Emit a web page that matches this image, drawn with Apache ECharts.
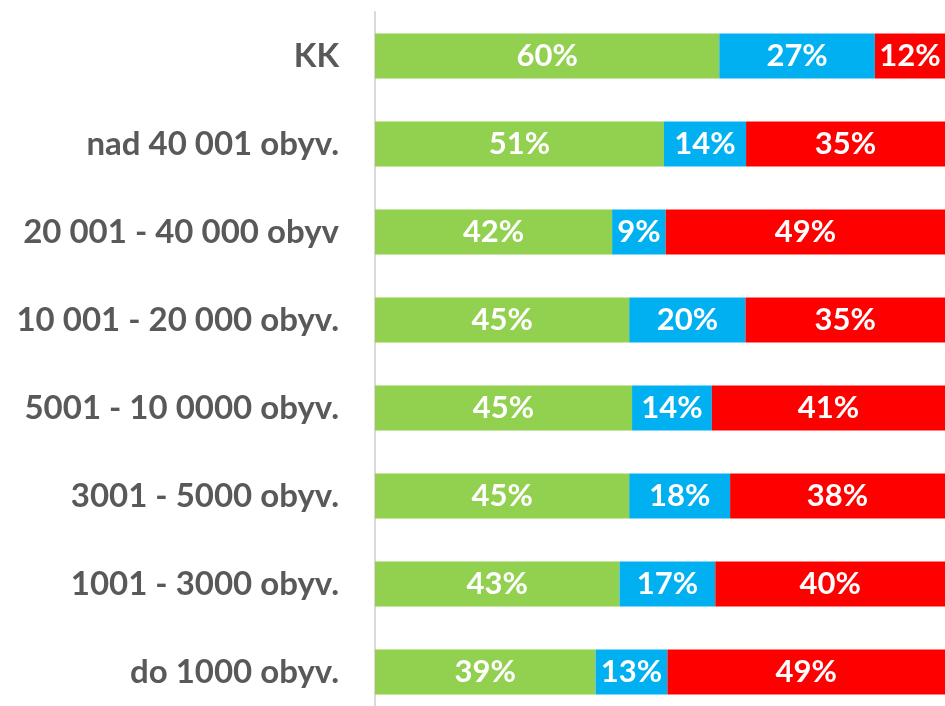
<!DOCTYPE html>
<html>
<head>
<meta charset="utf-8">
<script src="https://cdn.jsdelivr.net/npm/echarts@6/dist/echarts.min.js"></script>
<style>
  html, body { margin: 0; padding: 0; background: #fff; overflow: hidden; }
  /* taller than the window: the last band is cut off at the bottom, like the original */
  #main { width: 945px; height: 716px; }
</style>
</head>
<body>
<div id="main"></div>
<script>
var categories = [
    'KK',
    'nad 40 001 obyv.',
    '20 001 - 40 000 obyv',
    '10 001 - 20 000 obyv.',
    '5001 - 10 0000 obyv.',
    '3001 - 5000 obyv.',
    '1001 - 3000 obyv.',
    'do 1000 obyv.'
];

// podiely v % (odčítané zo šírky pruhov)
var greenValues = [60.4, 50.7, 41.6, 44.6, 45.1, 44.6, 42.9, 38.7];
var blueValues  = [27.3, 14.4,  9.4, 20.4, 14.0, 17.7, 16.8, 12.6];
var redValues   = [12.3, 34.9, 49.0, 35.0, 40.9, 37.7, 40.3, 48.7];

var colors = ['#92D050', '#00B0F0', '#FF0000'];

var myChart = echarts.init(document.getElementById('main'));

function makeSeries(name, values, color) {
    return {
        name: name,
        type: 'bar',
        stack: 'total',
        data: values,
        barWidth: 45,
        itemStyle: { color: color },
        label: {
            show: true,
            position: 'inside',
            color: '#ffffff',
            fontFamily: 'Lato',
            fontWeight: 'bold',
            fontSize: 31,
            formatter: function (p) {
                return Math.round(p.value) + '%';
            }
        }
    };
}

var option = {
    animation: false,
    grid: {
        left: 375,
        right: 0,
        top: 12,
        bottom: 0
    },
    xAxis: {
        type: 'value',
        min: 0,
        max: 100,
        show: false
    },
    yAxis: {
        type: 'category',
        data: categories,
        inverse: true,
        axisLine: { show: true, lineStyle: { color: '#D9D9D9', width: 2 } },
        axisTick: { show: false },
        axisLabel: {
            color: '#595959',
            fontFamily: 'Lato',
            fontWeight: 'bold',
            fontSize: 33,
            margin: 36
        }
    },
    series: [
        makeSeries('green', greenValues, colors[0]),
        makeSeries('blue', blueValues, colors[1]),
        makeSeries('red', redValues, colors[2])
    ]
};

myChart.setOption(option);
</script>
</body>
</html>
